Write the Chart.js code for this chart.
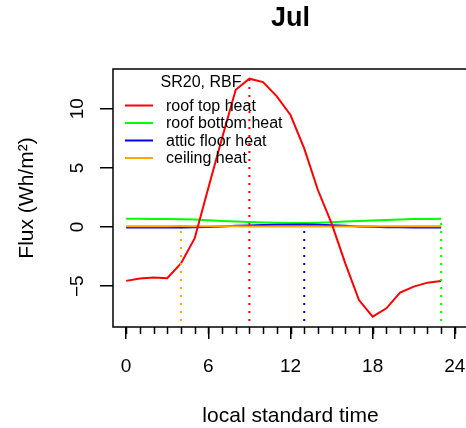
<!DOCTYPE html>
<html>
<head>
<meta charset="utf-8">
<script src="https://cdn.jsdelivr.net/npm/chart.js@4"></script>
<style>
  html, body { margin: 0; padding: 0; background: #fff; overflow: hidden; }
  #wrap { width: 472px; height: 428px; }
</style>
</head>
<body>
<div id="wrap"><canvas id="fluxChart" width="472" height="428"></canvas></div>
<script>
// --- Data ---

const chartTitle = 'Jul';
const legendTitle = 'SR20, RBF';
const hours = [0, 1, 2, 3, 4, 5, 6, 7, 8, 9, 10, 11, 12, 13, 14, 15, 16, 17, 18, 19, 20, 21, 22, 23];

const roofTop = [-4.55, -4.35, -4.27, -4.32, -3.08, -0.96, 3.3, 7.5, 11.6, 12.54, 12.25, 11.05,
                 9.47, 6.65, 3.13, 0.31, -3.07, -6.17, -7.58, -6.87, -5.55, -5.04, -4.7, -4.56];
const roofBottom = [0.70, 0.70, 0.69, 0.68, 0.66, 0.63, 0.58, 0.52, 0.46, 0.42, 0.38, 0.36,
                    0.34, 0.34, 0.37, 0.41, 0.46, 0.51, 0.56, 0.60, 0.64, 0.67, 0.69, 0.71];
const atticFloor = [-0.03, -0.03, -0.03, -0.03, -0.03, -0.02, 0.01, 0.05, 0.10, 0.14, 0.17, 0.19,
                    0.20, 0.21, 0.19, 0.15, 0.10, 0.05, 0.02, -0.01, -0.02, -0.03, -0.03, -0.03];
const ceiling = [0.06, 0.06, 0.07, 0.07, 0.08, 0.07, 0.07, 0.06, 0.06, 0.05, 0.05, 0.05,
                 0.05, 0.05, 0.05, 0.05, 0.05, 0.06, 0.06, 0.06, 0.06, 0.06, 0.06, 0.06];

const seriesLabels = ['roof top heat', 'roof bottom heat', 'attic floor heat', 'ceiling heat'];
const seriesColors = ['#ff0000', '#00ff00', '#0000ff', '#ffa500'];
const seriesValues = [roofTop, roofBottom, atticFloor, ceiling];
// drawing order: red on top, then orange, blue, green
const seriesOrder = [1, 4, 3, 2];

const xTicks = [0, 6, 12, 18, 24];
const yTicks = [-5, 0, 5, 10];
const xMin = -0.96, xMax = 24.96;
const yMin = -8.45, yMax = 13.36;

const FONT = '"Liberation Sans", Arial, Helvetica, sans-serif';

// --- Helpers ---

function argMax(arr) {
    let k = 0;
    arr.forEach((v, i) => { if (v > arr[k]) k = i; });
    return k;
}

const lineSets = seriesValues.map((vals, i) => ({
    label: seriesLabels[i],
    data: hours.map((h, j) => ({ x: h, y: vals[j] })),
    borderColor: seriesColors[i],
    borderWidth: 2,
    pointRadius: 0,
    tension: 0,
    order: seriesOrder[i]
}));

// dotted drop lines at the hour of each series' maximum
const dropSets = seriesValues.map((vals, i) => {
    const k = argMax(vals);
    return {
        label: seriesLabels[i] + ' max',
        data: [{ x: hours[k], y: yMin }, { x: hours[k], y: vals[k] }],
        borderColor: seriesColors[i],
        borderWidth: 2,
        borderDash: [2, 6],
        borderDashOffset: 2,
        pointRadius: 0,
        order: 0
    };
});

// box, minor ticks and the R-style legend
const rDecorations = {
    id: 'rDecorations',
    afterDraw(chart) {
        const { ctx, chartArea } = chart;
        const xs = chart.scales.x;
        ctx.save();

        ctx.strokeStyle = '#000';
        ctx.lineWidth = 1.5;
        ctx.strokeRect(chartArea.left, chartArea.top,
                       chartArea.right - chartArea.left, chartArea.bottom - chartArea.top);

        // minor ticks every hour
        ctx.beginPath();
        for (let h = 0; h <= 24; h++) {
            const px = Math.round(xs.getPixelForValue(h)) + 0.5;
            ctx.moveTo(px, chartArea.bottom);
            ctx.lineTo(px, chartArea.bottom + 7);
        }
        ctx.stroke();

        // legend
        const lx = chartArea.left, ly = chartArea.top;
        ctx.font = '16px ' + FONT;
        ctx.fillStyle = '#000';
        ctx.textBaseline = 'middle';
        ctx.textAlign = 'center';
        ctx.fillText(legendTitle, lx + 88, ly + 13.8);
        ctx.textAlign = 'left';
        seriesLabels.forEach((label, i) => {
            const y = ly + 36.5 + i * 17.5;
            ctx.strokeStyle = seriesColors[i];
            ctx.lineWidth = 2;
            ctx.beginPath();
            ctx.moveTo(lx + 12, y);
            ctx.lineTo(lx + 40, y);
            ctx.stroke();
            ctx.fillText(label, lx + 53, y + 0.8);
        });
        ctx.restore();
    }
};

// --- Chart ---

const ctx = document.getElementById('fluxChart').getContext('2d');
new Chart(ctx, {
    type: 'line',
    data: { datasets: [...lineSets, ...dropSets] },
    options: {
        responsive: false,
        animation: false,
        devicePixelRatio: 1,
        events: [],
        layout: { padding: { top: 0, left: 0, right: 4, bottom: 0 } },
        plugins: {
            legend: { display: false },
            tooltip: { enabled: false },
            title: {
                display: true,
                text: chartTitle,
                fullSize: false,
                color: '#000',
                font: { family: FONT, size: 27, weight: 'bold', lineHeight: 1.2 },
                padding: { top: 2.1, bottom: 34.5 }
            }
        },
        scales: {
            x: {
                type: 'linear',
                min: xMin,
                max: xMax,
                afterBuildTicks: s => { s.ticks = xTicks.map(v => ({ value: v })); },
                afterFit: s => { s.height = 101; s.paddingLeft = 0; s.paddingRight = 0; },
                border: { display: false },
                grid: { drawOnChartArea: false, drawTicks: true, tickLength: 12, color: '#000', lineWidth: 1.5 },
                ticks: {
                    autoSkip: false,
                    maxRotation: 0,
                    color: '#000',
                    padding: 16,
                    font: { family: FONT, size: 19 }
                },
                title: {
                    display: true,
                    text: 'local standard time',
                    color: '#000',
                    font: { family: FONT, size: 21, lineHeight: 1 },
                    padding: { top: 0, bottom: 1.3 }
                }
            },
            y: {
                type: 'linear',
                min: yMin,
                max: yMax,
                afterBuildTicks: s => { s.ticks = yTicks.map(v => ({ value: v })); },
                afterFit: s => { s.width = 113; s.paddingTop = 0; s.paddingBottom = 0; },
                border: { display: false },
                grid: { drawOnChartArea: false, drawTicks: true, tickLength: 13, color: '#000', lineWidth: 1.5 },
                ticks: {
                    autoSkip: false,
                    minRotation: 90,
                    maxRotation: 90,
                    crossAlign: 'center',
                    color: '#000',
                    padding: 11.5,
                    font: { family: FONT, size: 19 },
                    callback: v => (v < 0 ? '\u2212' + Math.abs(v) : String(v))
                },
                title: {
                    display: true,
                    text: 'Flux (Wh/m\u00b2)',
                    color: '#000',
                    font: { family: FONT, size: 21, lineHeight: 1 },
                    padding: { top: 16.3, bottom: 0 }
                }
            }
        }
    },
    plugins: [rDecorations]
});
</script>
</body>
</html>
